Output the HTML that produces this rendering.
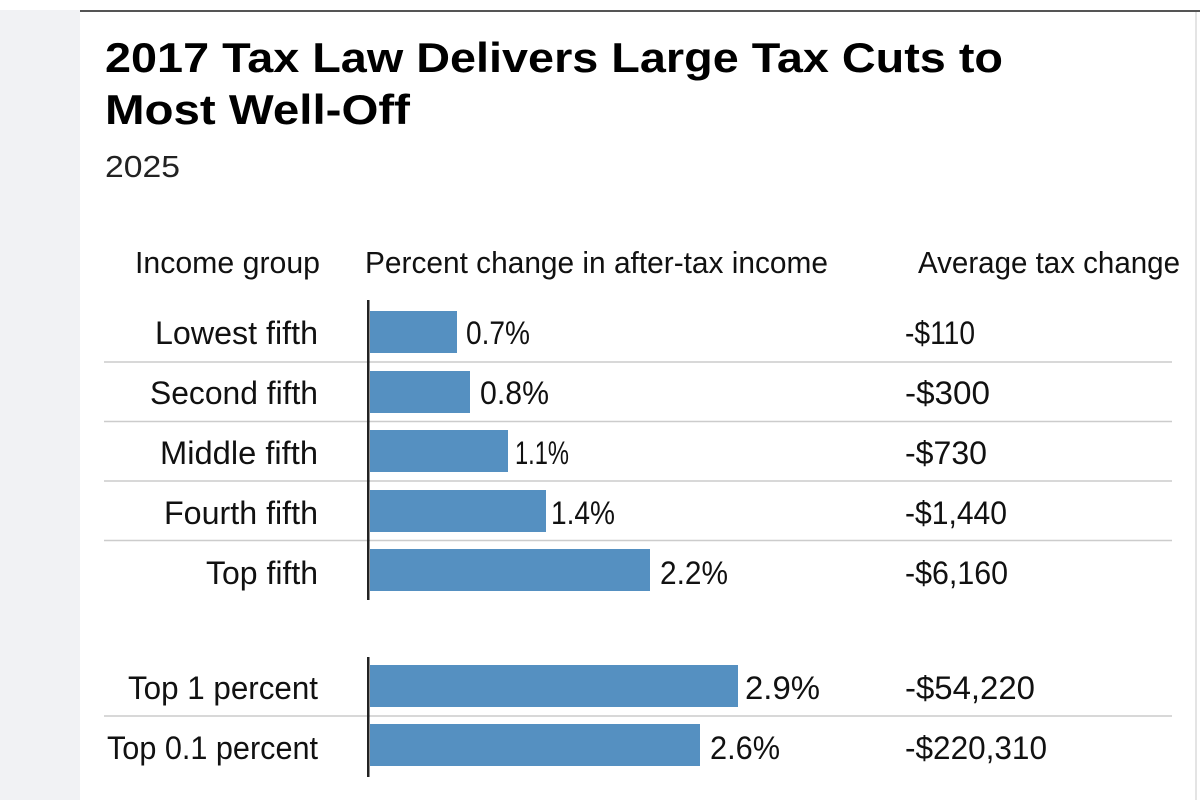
<!DOCTYPE html>
<html><head><meta charset="utf-8"><style>
html,body{margin:0;padding:0;background:#fff;}
svg{display:block;}
</style></head><body>
<svg width="1200" height="800" xmlns="http://www.w3.org/2000/svg">
<rect x="0" y="10" width="80" height="790" fill="#f1f2f4"/>
<rect x="80" y="10" width="1120" height="2" fill="#555"/>
<rect x="1195" y="12" width="2" height="788" fill="#e4e4e4"/>
<g font-family="Liberation Sans, sans-serif" font-weight="bold" fill="#000" font-size="42">
<text x="105" y="72" textLength="898" lengthAdjust="spacingAndGlyphs">2017 Tax Law Delivers Large Tax Cuts to</text>
<text x="105" y="124" textLength="305" lengthAdjust="spacingAndGlyphs">Most Well-Off</text>
</g>
<text x="105" y="177" font-family="Liberation Sans, sans-serif" font-size="31" fill="#222" textLength="75" lengthAdjust="spacingAndGlyphs">2025</text>
<g font-family="Liberation Sans, sans-serif" font-size="31" fill="#111">
<text x="135" y="273" textLength="185" lengthAdjust="spacingAndGlyphs">Income group</text>
<text x="365" y="273" textLength="463" lengthAdjust="spacingAndGlyphs">Percent change in after-tax income</text>
<text x="918" y="273" textLength="262" lengthAdjust="spacingAndGlyphs">Average tax change</text>
</g>
<g stroke="#ccc" stroke-width="1.5">
<line x1="104" y1="362" x2="1172" y2="362"/>
<line x1="104" y1="421.5" x2="1172" y2="421.5"/>
<line x1="104" y1="481" x2="1172" y2="481"/>
<line x1="104" y1="540.5" x2="1172" y2="540.5"/>
<line x1="104" y1="716" x2="1172" y2="716"/>
</g>
<g fill="#5590c1">
<rect x="370" y="311" width="87" height="42"/>
<rect x="370" y="371" width="100" height="42"/>
<rect x="370" y="430" width="138" height="42"/>
<rect x="370" y="490" width="176" height="42"/>
<rect x="370" y="549" width="280" height="42"/>
<rect x="370" y="665" width="368" height="42"/>
<rect x="370" y="724" width="330" height="42"/>
</g>
<rect x="367" y="300" width="2.5" height="300" fill="#222"/>
<rect x="367" y="657" width="2.5" height="120" fill="#222"/>
<g font-family="Liberation Sans, sans-serif" font-size="32" fill="#111">
<text x="155" y="344" textLength="163" lengthAdjust="spacingAndGlyphs">Lowest fifth</text>
<text x="150" y="404" textLength="168" lengthAdjust="spacingAndGlyphs">Second fifth</text>
<text x="160" y="464" textLength="158" lengthAdjust="spacingAndGlyphs">Middle fifth</text>
<text x="164" y="524" textLength="154" lengthAdjust="spacingAndGlyphs">Fourth fifth</text>
<text x="206" y="584" textLength="112" lengthAdjust="spacingAndGlyphs">Top fifth</text>
<text x="128" y="699" textLength="190" lengthAdjust="spacingAndGlyphs">Top 1 percent</text>
<text x="107" y="759" textLength="211" lengthAdjust="spacingAndGlyphs">Top 0.1 percent</text>
<text x="466" y="344" textLength="64" lengthAdjust="spacingAndGlyphs">0.7%</text>
<text x="480" y="404" textLength="69" lengthAdjust="spacingAndGlyphs">0.8%</text>
<text x="515" y="464" textLength="54" lengthAdjust="spacingAndGlyphs">1.1%</text>
<text x="551" y="524" textLength="64" lengthAdjust="spacingAndGlyphs">1.4%</text>
<text x="660" y="584" textLength="68" lengthAdjust="spacingAndGlyphs">2.2%</text>
<text x="745" y="699" textLength="75" lengthAdjust="spacingAndGlyphs">2.9%</text>
<text x="710" y="759" textLength="70" lengthAdjust="spacingAndGlyphs">2.6%</text>
<text x="905" y="344" textLength="70" lengthAdjust="spacingAndGlyphs">-$110</text>
<text x="905" y="404" textLength="85" lengthAdjust="spacingAndGlyphs">-$300</text>
<text x="905" y="464" textLength="82" lengthAdjust="spacingAndGlyphs">-$730</text>
<text x="905" y="524" textLength="102" lengthAdjust="spacingAndGlyphs">-$1,440</text>
<text x="905" y="584" textLength="103" lengthAdjust="spacingAndGlyphs">-$6,160</text>
<text x="905" y="699" textLength="130" lengthAdjust="spacingAndGlyphs">-$54,220</text>
<text x="905" y="759" textLength="142" lengthAdjust="spacingAndGlyphs">-$220,310</text>
</g>
</svg>
</body></html>
